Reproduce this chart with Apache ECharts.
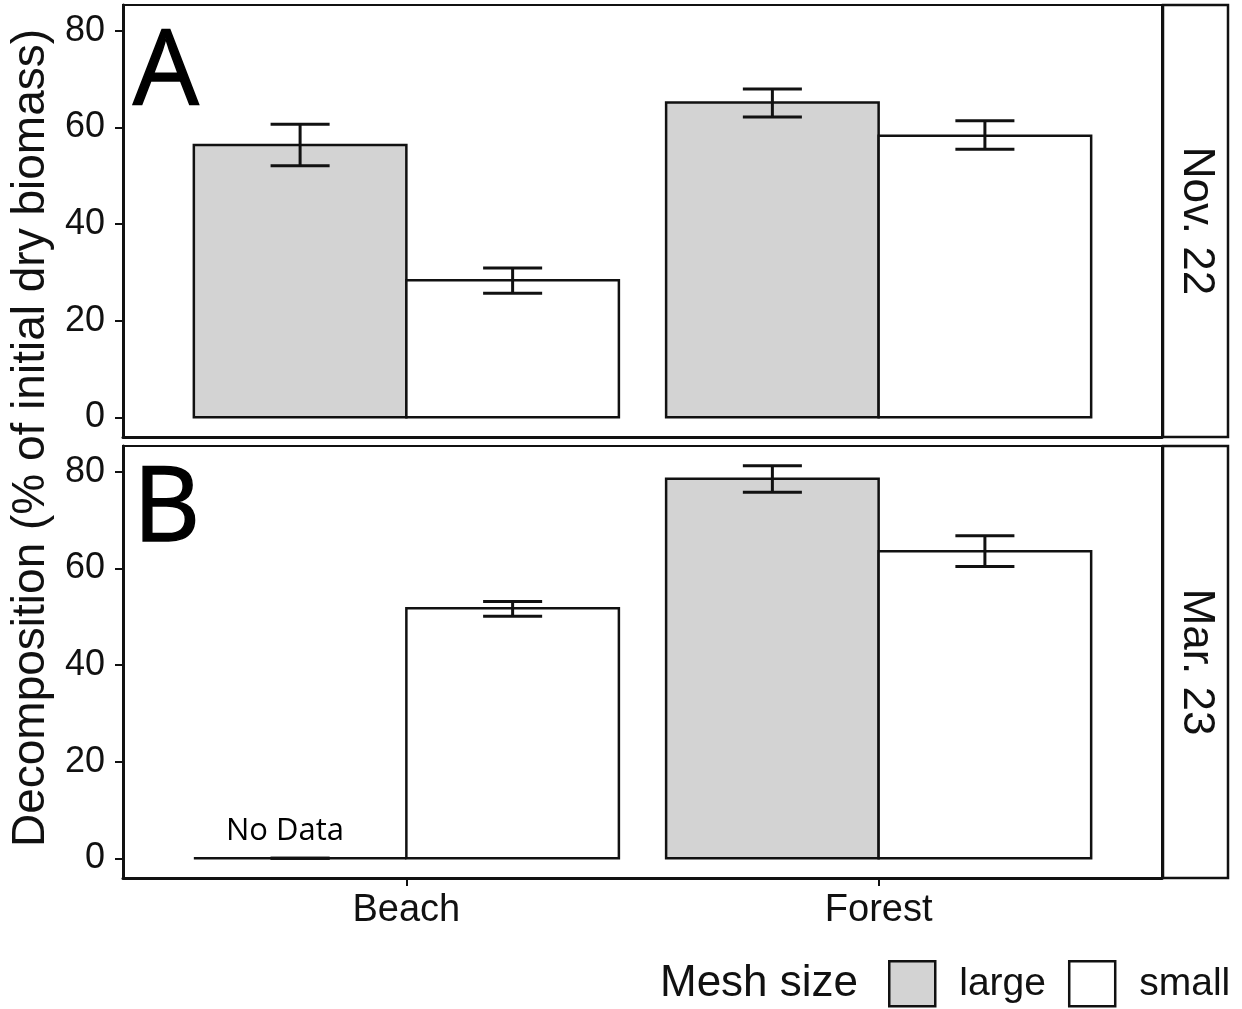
<!DOCTYPE html>
<html>
<head>
<meta charset="utf-8">
<title>Decomposition by habitat and mesh size</title>
<script src="https://cdn.jsdelivr.net/npm/echarts@6/dist/echarts.min.js"></script>
<style>
  html, body { margin: 0; padding: 0; background: #fff; }
  #chart { width: 1242px; height: 1009px; }
</style>
</head>
<body>
<div id="chart"></div>
<script>
// Habitats on the x axis, mesh sizes as dodged bars, sampling dates as facets
const categories = ['Beach', 'Forest'];
const meshSizes = ['large', 'small'];
const facetDates = ['Nov. 22', 'Mar. 23'];
const facetTags = ['A', 'B'];
const yTicks = [0, 20, 40, 60, 80];

// Mean decomposition (% of initial dry biomass) with lower / upper error limits
const nov22LargeMean = [56.4, 65.2];
const nov22LargeLow  = [52.1, 62.2];
const nov22LargeHigh = [60.7, 68.0];
const nov22SmallMean = [28.4, 58.3];
const nov22SmallLow  = [25.7, 55.5];
const nov22SmallHigh = [30.9, 61.4];

// Beach / large mesh in March has no data: drawn flat at zero
const mar23LargeMean = [0, 78.6];
const mar23LargeLow  = [0, 75.8];
const mar23LargeHigh = [0, 81.3];
const mar23SmallMean = [51.8, 63.6];
const mar23SmallLow  = [50.1, 60.4];
const mar23SmallHigh = [53.2, 66.8];

const fillColors = { large: '#d3d3d3', small: '#ffffff' };
const ink = '#111111';
const sansFont = "'Liberation Sans', Arial, sans-serif";
const tagFont = "'Open Sans', 'Liberation Sans', sans-serif";

function rows(mean, low, high) {
  return mean.map((m, i) => [i, m, low[i], high[i]]);
}

const panelData = [
  { large: rows(nov22LargeMean, nov22LargeLow, nov22LargeHigh),
    small: rows(nov22SmallMean, nov22SmallLow, nov22SmallHigh) },
  { large: rows(mar23LargeMean, mar23LargeLow, mar23LargeHigh),
    small: rows(mar23SmallMean, mar23SmallLow, mar23SmallHigh) }
];

// Shared y scale over both facets, padded 5% each way like ggplot
const allHigh = [].concat(nov22LargeHigh, nov22SmallHigh, mar23LargeHigh, mar23SmallHigh);
const dataMax = Math.max.apply(null, allHigh);
const yPad = dataMax * 0.05;
const yMin = -yPad;
const yMax = dataMax + yPad;

const dodge = 0.45;     // width of one bar in category units
const capHalf = 0.0625; // half width of an error-bar cap

function barRenderer(groupIdx, fill) {
  return function (params, api) {
    const cat = api.value(0);
    const mean = api.value(1);
    const low = api.value(2);
    const high = api.value(3);
    const xc = cat + 1 + (groupIdx === 0 ? -dodge / 2 : dodge / 2);
    const topLeft = api.coord([xc - dodge / 2, mean]);
    const bottomRight = api.coord([xc + dodge / 2, 0]);
    const pLow = api.coord([xc, low]);
    const pHigh = api.coord([xc, high]);
    const capL = api.coord([xc - capHalf, low])[0];
    const capR = api.coord([xc + capHalf, low])[0];
    const errStyle = { stroke: ink, lineWidth: 3 };
    return {
      type: 'group',
      children: [
        { type: 'rect',
          shape: { x: topLeft[0], y: topLeft[1],
                   width: bottomRight[0] - topLeft[0],
                   height: bottomRight[1] - topLeft[1] },
          style: { fill: fill, stroke: ink, lineWidth: 2.5 } },
        { type: 'line', shape: { x1: pLow[0], y1: pLow[1], x2: pHigh[0], y2: pHigh[1] }, style: errStyle },
        { type: 'line', shape: { x1: capL, y1: pLow[1], x2: capR, y2: pLow[1] }, style: errStyle },
        { type: 'line', shape: { x1: capL, y1: pHigh[1], x2: capR, y2: pHigh[1] }, style: errStyle }
      ]
    };
  };
}

const panelLeft = 123;
const panelRight = 1162;
const panelTops = [5, 446];
const panelHeight = 432;

const grids = panelTops.map(t => ({
  left: panelLeft, width: panelRight - panelLeft, top: t, height: panelHeight,
  show: true, borderColor: ink, borderWidth: 2, backgroundColor: '#fff'
}));

const xAxes = panelTops.map((t, i) => ({
  type: 'value', gridIndex: i, min: 0.4, max: 2.6,
  splitLine: { show: false },
  axisLine: { show: true, onZero: false, lineStyle: { color: ink, width: 3 } },
  axisTick: { show: i === 1, customValues: [1, 2], length: 8, lineStyle: { color: ink, width: 2 } },
  axisLabel: {
    show: i === 1, customValues: [1, 2], margin: 14,
    fontSize: 38, color: ink, fontFamily: sansFont,
    formatter: v => categories[Math.round(v) - 1] || ''
  }
}));

const yAxes = panelTops.map((t, i) => ({
  type: 'value', gridIndex: i, min: yMin, max: yMax,
  splitLine: { show: false },
  axisLine: { show: true, onZero: false, lineStyle: { color: ink, width: 3 } },
  axisTick: { show: true, customValues: yTicks, length: 8, lineStyle: { color: ink, width: 2 } },
  axisLabel: {
    show: true, customValues: yTicks, margin: 18,
    fontSize: 36, color: ink, fontFamily: sansFont
  }
}));

const series = [];
panelData.forEach((panel, pi) => {
  meshSizes.forEach((mesh, gi) => {
    series.push({
      name: mesh, type: 'custom', xAxisIndex: pi, yAxisIndex: pi,
      itemStyle: { color: fillColors[mesh], borderColor: ink },
      renderItem: barRenderer(gi, fillColors[mesh]),
      data: panel[mesh], silent: true, animation: false
    });
  });
});

const stripX = 1163;
const stripW = 65;
const graphics = [];
panelTops.forEach((t, i) => {
  graphics.push({
    type: 'rect', z: 10,
    shape: { x: stripX, y: t, width: stripW, height: panelHeight },
    style: { fill: '#fff', stroke: ink, lineWidth: 2.5 }
  });
  graphics.push({
    type: 'text', z: 11, x: stripX + stripW / 2 + 1, y: t + panelHeight / 2,
    rotation: -Math.PI / 2,
    style: { text: facetDates[i], fontSize: 44, fontFamily: sansFont, fill: ink,
             align: 'center', verticalAlign: 'middle' }
  });
  graphics.push({
    type: 'text', z: 11, x: 133, y: t + (i === 0 ? 70 : 65),
    style: { text: facetTags[i], fontSize: 104, fontFamily: tagFont, fill: '#000',
             stroke: '#000', lineWidth: 1.5,
             align: 'left', verticalAlign: 'middle' }
  });
});
graphics.push({
  type: 'text', z: 11, x: 285, y: 831,
  style: { text: 'No Data', fontSize: 31, fontFamily: tagFont, fill: '#000',
           align: 'center', verticalAlign: 'middle' }
});
graphics.push({
  type: 'text', z: 11, x: 31, y: 438, rotation: Math.PI / 2,
  style: { text: 'Decomposition (% of initial dry biomass)', fontSize: 46,
           fontFamily: sansFont, fill: ink, align: 'center', verticalAlign: 'middle' }
});
graphics.push({
  type: 'text', z: 11, x: 660, y: 984,
  style: { text: 'Mesh size', fontSize: 44, fontFamily: sansFont, fill: ink,
           align: 'left', verticalAlign: 'middle' }
});

const chart = echarts.init(document.getElementById('chart'), null, { renderer: 'canvas' });
chart.setOption({
  animation: false,
  backgroundColor: '#fff',
  textStyle: { fontFamily: sansFont },
  grid: grids,
  xAxis: xAxes,
  yAxis: yAxes,
  legend: {
    left: 888, top: 960, width: 354, padding: 0, orient: 'horizontal',
    itemWidth: 46, itemHeight: 45, itemGap: 22, selectedMode: false,
    textStyle: { fontSize: 39, color: ink, fontFamily: sansFont, padding: [0, 0, 0, 19] },
    data: meshSizes.map(m => ({
      name: m, icon: 'rect',
      itemStyle: { color: fillColors[m], borderColor: ink, borderWidth: 2.5 }
    }))
  },
  series: series,
  graphic: graphics
});
</script>
</body>
</html>
